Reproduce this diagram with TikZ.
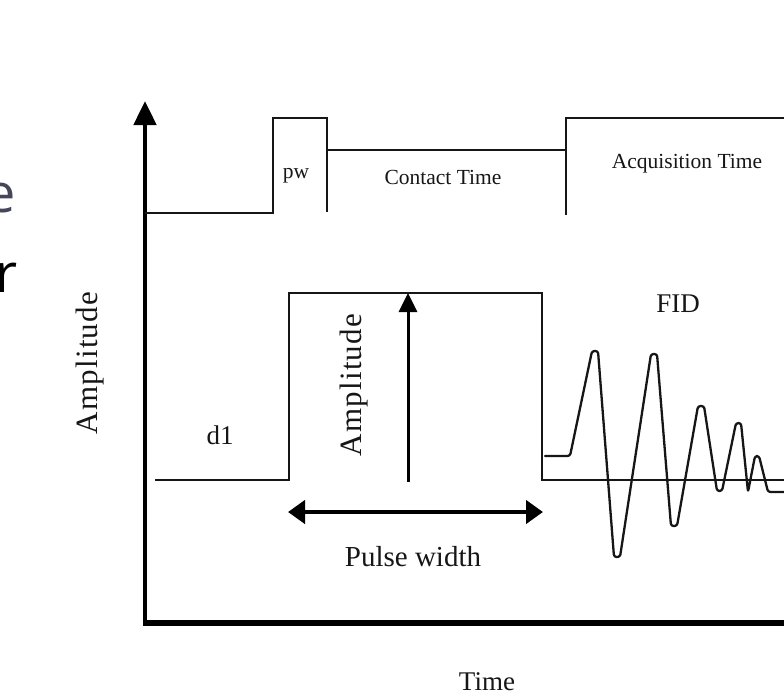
\documentclass[tikz,border=0pt]{standalone}
\usepackage{fontspec}
\setmainfont{Liberation Serif}
\newfontfamily\slidefont{Open Sans}
\usetikzlibrary{arrows.meta}
\definecolor{slate}{HTML}{44475A}
\definecolor{ink}{HTML}{161616}
\begin{document}
\begin{tikzpicture}[x=1pt,y=-1pt,line join=miter,
  sig/.style={line width=2.8pt, draw=ink},
  wave/.style={line width=2.3pt, draw=ink, line join=round, line cap=round},
  axisline/.style={line width=4.8pt, draw=black},
  lbl/.style={inner sep=0pt, text=ink, font=\fontsize{21.5}{24}\selectfont},
  biglbl/.style={inner sep=0pt, text=ink, font=\fontsize{27}{30}\selectfont},
  amplbl/.style={inner sep=0pt, text=ink, rotate=90, font=\fontsize{31}{34}\selectfont\addfontfeatures{LetterSpace=4}},
  slidetxt/.style={inner sep=0pt, anchor=base east, font=\fontsize{54}{60}\selectfont\slidefont}]
\useasboundingbox (0,0) rectangle (784,699);

% slide text fragments at the left edge
\node[slidetxt, text=slate] (frage) at (16,212) {e};
\node[slidetxt, text=black] (fragr) at (18,292) {r};

% axes
\coordinate (origin) at (145,623);
\coordinate (ytop) at (145,101);
\coordinate (xend) at (784,623);
\draw[axisline, -{Triangle[length=24pt,width=22pt]}] (145,626) -- (ytop);
\draw[line width=6.5pt] (142.6,623) -- (xend);

% top timing line
\draw[sig] (145,213) -- (273,213) -- (273,118) -- (327,118) -- (327,212);
\draw[sig] (327,150) -- (566,150);
\draw[sig] (566,215) -- (566,118) -- (784,118);

% pulse
\draw[sig] (155,480) -- (289,480) -- (289,293) -- (542,293) -- (542,480) -- (784,480);

% FID
\draw[wave, rounded corners=2.5pt]
  (545,456) -- (570,456)
  -- (592,351) -- (598,351)
  -- (614,557) -- (620,557)
  -- (651,354) -- (657,354)
  -- (671,526) -- (677,526)
  -- (698,406) -- (704,406)
  -- (717,491) -- (722,491)
  -- (736,423) -- (741,423)
  -- (748,492) -- (755,456) -- (759,456)
  -- (768,492) -- (784,492);

% arrows
\coordinate (ampfoot) at (408,482);
\coordinate (amphead) at (408,293);
\draw[line width=3pt, draw=black, -{Triangle[length=19pt,width=18pt]}] (ampfoot) -- (amphead);
\coordinate (pwl) at (288,512);
\coordinate (pwr) at (543,512);
\draw[line width=4.5pt, draw=black, {Triangle[length=17pt,width=23pt]}-{Triangle[length=17pt,width=23pt]}] (pwl) -- (pwr);

% labels
\node[lbl] (pw) at (296,176) {pw};
\node[lbl] (contact) at (443,177) {Contact Time};
\node[lbl] (acq) at (687,164) {Acquisition Time};
\node[biglbl] (fid) at (678,304) {FID};
\node[biglbl] (dl) at (220,435) {d1};
\node[amplbl] (ampl) at (90,363) {Amplitude};
\node[amplbl] (ampi) at (354,385) {Amplitude};
\node[biglbl, font=\fontsize{29}{32}\selectfont] (pwidth) at (413,557) {Pulse width};
\node[biglbl] (time) at (487,682) {Time};
\end{tikzpicture}
\end{document}
